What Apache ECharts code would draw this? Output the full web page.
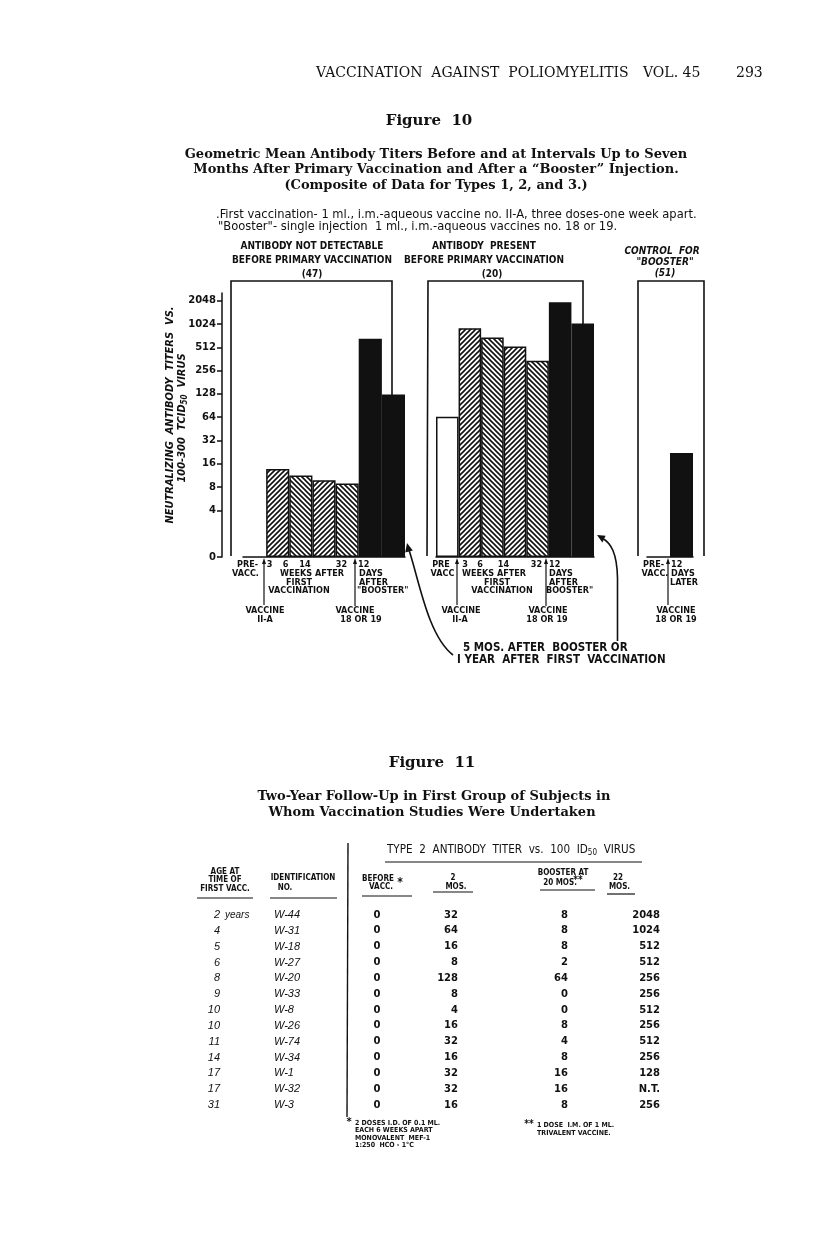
<!DOCTYPE html>
<html>
<head>
<meta charset="utf-8">
<script src="https://cdn.jsdelivr.net/npm/echarts@6/dist/echarts.min.js"></script>
<style>
  html, body { margin: 0; padding: 0; background: #fff; }
  #chart { width: 816px; height: 1236px; }
</style>
</head>
<body>
<div id="chart"></div>
<script>
const timepoints = ['PRE-VACC.', '3 WK', '6 WK', '14 WK', '32 WK', '12 DAYS AFTER BOOSTER', '5 MOS. AFTER BOOSTER']
const notDetectable = [null, 13.7, 11.3, 9.8, 8.9, 660, 126]   // (47)
const present = [65, 905, 685, 525, 343, 1960, 1040]            // (20)
const controlPoints = ['PRE-VACC.', '12 DAYS LATER']
const control = [null, 22]                                      // (51)
const barFills = ['open', 'up', 'down', 'up', 'down', 'solid', 'solid']
const controlFills = ['open', 'solid']
const tickTiters = [0, 4, 8, 16, 32, 64, 128, 256, 512, 1024, 2048]

// ---- Figure 11: table ----
const ages = ['2', '4', '5', '6', '8', '9', '10', '10', '11', '14', '17', '17', '31']
const ids = ['W-44', 'W-31', 'W-18', 'W-27', 'W-20', 'W-33', 'W-8', 'W-26', 'W-74', 'W-34', 'W-1', 'W-32', 'W-3']
const beforeVacc = [0, 0, 0, 0, 0, 0, 0, 0, 0, 0, 0, 0, 0]
const twoMos = [32, 64, 16, 8, 128, 8, 4, 16, 32, 16, 32, 32, 16]
const boosterAt20 = [8, 8, 8, 2, 64, 0, 0, 8, 4, 8, 16, 16, 8]
const twentyTwoMos = ['2048', '1024', '512', '512', '256', '256', '512', '256', '512', '256', '128', 'N.T.', '256']

const INK = '#111'
const NARROW = '"Liberation Sans Narrow", "DejaVu Sans Condensed", sans-serif'
const SANS = '"DejaVu Sans", sans-serif'
const SERIF = '"DejaVu Serif", serif'

const hatch = (dir) => {
  const c = document.createElement('canvas')
  c.width = c.height = 5
  const g = c.getContext('2d')
  g.fillStyle = '#fff'
  g.fillRect(0, 0, 5, 5)
  g.strokeStyle = INK
  g.lineWidth = 1.6
  g.beginPath()
  for (let k = -5; k <= 5; k += 5) {
    if (dir === 'up') { g.moveTo(k - 1, 6); g.lineTo(k + 6, -1) }
    else { g.moveTo(k - 1, -1); g.lineTo(k + 6, 6) }
  }
  g.stroke()
  return c
}

const fillOf = (f) => {
  if (f === 'solid') return INK
  if (f === 'open') return '#fff'
  return { image: hatch(f), repeat: 'repeat' }
}

const toBars = (vals, fills) => vals.map((v, i) => ({
  value: v == null ? null : Math.log2(v),
  itemStyle: { color: fillOf(fills[i]), borderColor: INK, borderWidth: 1.5 }
}))

const tickExps = tickTiters.map(t => (t === 0 ? 0 : Math.log2(t)))

const grids = [
  { left: 243, width: 162, top: 293, bottom: 679 },
  { left: 436, width: 158, top: 293, bottom: 679 },
  { left: 647, width: 46, top: 293, bottom: 679 }
]

const makeY = (i, show) => ({
  type: 'value',
  gridIndex: i,
  min: 0,
  max: 11.33,
  show,
  offset: 21,
  splitLine: { show: false },
  axisLine: { show: true, lineStyle: { color: INK, width: 1.5 } },
  axisTick: { show: true, length: 5, customValues: tickExps, lineStyle: { color: INK, width: 1.5 } },
  axisLabel: {
    customValues: tickExps,
    margin: 6,
    fontFamily: SANS,
    fontWeight: 'bold',
    fontSize: 10,
    color: INK,
    formatter: (v) => (v === 0 ? '0' : String(Math.round(Math.pow(2, v))))
  }
})

const makeX = (i, cats) => ({
  type: 'category',
  gridIndex: i,
  data: cats,
  axisLine: { show: true, onZero: false, lineStyle: { color: INK, width: 1.5 } },
  axisTick: { show: false },
  axisLabel: { show: false },
  splitLine: { show: false }
})

const makeBars = (i, data) => ({
  type: 'bar',
  xAxisIndex: i,
  yAxisIndex: i,
  data,
  barCategoryGap: '0%',
  barGap: '0%',
  silent: true
})

// ---- graphic helpers (page text, frames, arrows) ----
const txt = (text, x, y, o = {}) => ({
  type: 'text',
  x, y,
  rotation: o.rot || 0,
  silent: true,
  style: {
    text,
    fill: INK,
    align: o.align || 'center',
    verticalAlign: 'middle',
    fontFamily: o.family || NARROW,
    fontSize: o.size || 9,
    fontWeight: o.weight || 'bold',
    fontStyle: o.italic ? 'italic' : 'normal',
    rich: o.rich
  }
})

const seg = (pts, w = 1.5) => ({
  type: 'polyline', silent: true,
  shape: { points: pts },
  style: { stroke: INK, lineWidth: w, fill: null }
})

const head = (pts) => ({
  type: 'polygon', silent: true,
  shape: { points: pts },
  style: { fill: INK }
})

const upArrow = (x, y0, y1) => [
  seg([[x, y0 + 3], [x, y1]], 1.2),
  head([[x, y0], [x - 2, y0 + 6], [x + 2, y0 + 6]])
]

const g = []

// page header + figure 10 titles
g.push(txt('VACCINATION  AGAINST  POLIOMYELITIS', 316, 73, { align: 'left', family: SERIF, size: 14, weight: 'normal' }))
g.push(txt('VOL. 45', 643, 73, { align: 'left', family: SERIF, size: 14, weight: 'normal' }))
g.push(txt('293', 736, 73, { align: 'left', family: SERIF, size: 14, weight: 'normal' }))
g.push(txt('Figure  10', 429, 121, { family: SERIF, size: 15 }))
g.push(txt('Geometric Mean Antibody Titers Before and at Intervals Up to Seven', 436, 155, { family: SERIF, size: 13 }))
g.push(txt('Months After Primary Vaccination and After a \u201cBooster\u201d Injection.', 436, 170, { family: SERIF, size: 13 }))
g.push(txt('(Composite of Data for Types 1, 2, and 3.)', 436, 186, { family: SERIF, size: 13 }))

g.push(txt('.First vaccination- 1 ml., i.m.-aqueous vaccine no. II-A, three doses-one week apart.', 216, 215, { align: 'left', size: 12.8, weight: 'normal' }))
g.push(txt('"Booster"- single injection  1 ml., i.m.-aqueous vaccines no. 18 or 19.', 218, 227, { align: 'left', size: 12.8, weight: 'normal' }))

// panel headings
g.push(txt('ANTIBODY NOT DETECTABLE', 312, 246, { size: 10 }))
g.push(txt('BEFORE PRIMARY VACCINATION', 312, 260, { size: 10 }))
g.push(txt('(47)', 312, 274, { size: 10 }))
g.push(txt('ANTIBODY  PRESENT', 484, 246, { size: 10 }))
g.push(txt('BEFORE PRIMARY VACCINATION', 484, 260, { size: 10 }))
g.push(txt('(20)', 492, 274, { size: 10 }))
g.push(txt('CONTROL  FOR', 662, 251, { size: 10, italic: true }))
g.push(txt('"BOOSTER"', 665, 262, { size: 10, italic: true }))
g.push(txt('(51)', 665, 273, { size: 10, italic: true }))

// panel frames (open at the bottom)
g.push(seg([[231, 556], [231, 281], [392, 281], [392, 556]], 1.6))
g.push(seg([[427, 556], [428, 281], [583, 281], [583, 556]], 1.6))
g.push(seg([[638, 556], [638, 281], [704, 281], [704, 556]], 1.6))

// y-axis title
g.push(txt('NEUTRALIZING  ANTIBODY  TITERS  VS.', 170, 415, { rot: Math.PI / 2, size: 11, italic: true }))
g.push(txt('{a|100-300  TCID}{s|50}{a|  VIRUS}', 182, 418, {
  rot: Math.PI / 2, size: 11, italic: true,
  rich: {
    a: { fontFamily: NARROW, fontSize: 11, fontWeight: 'bold', fontStyle: 'italic', fill: INK },
    s: { fontFamily: NARROW, fontSize: 8, fontWeight: 'bold', fontStyle: 'italic', fill: INK, padding: [5, 0, 0, 0] }
  }
}))

// labels under panel 1
const L1 = [
  ['PRE-', 247.5, 565], ['VACC.', 245.5, 574],
  ['3', 269.5, 565], ['6', 285.5, 565], ['14', 305, 565], ['32', 341.5, 565],
  ['WEEKS AFTER', 312, 574], ['FIRST', 299, 582.5], ['VACCINATION', 299, 591],
  ['VACCINE', 265, 611], ['II-A', 265, 620], ['VACCINE', 355, 611], ['18 OR 19', 361, 620]
]
const L1left = [['12', 358, 565], ['DAYS', 359, 574], ['AFTER', 359, 582.5], ['"BOOSTER"', 357, 591]]
const L2 = [
  ['PRE', 441, 565], ['VACC', 442.5, 574],
  ['3', 465, 565], ['6', 480, 565], ['14', 503.5, 565], ['32', 536.5, 565],
  ['WEEKS AFTER', 494, 574], ['FIRST', 497, 582.5], ['VACCINATION', 502, 591],
  ['VACCINE', 461, 611], ['II-A', 460, 620], ['VACCINE', 548, 611], ['18 OR 19', 547, 620]
]
const L2left = [['12', 549, 565], ['DAYS', 549, 574], ['AFTER', 549, 582.5], ['BOOSTER"', 546, 591]]
const L3 = [['PRE-', 653.5, 565], ['VACC.', 655, 574], ['VACCINE', 676, 611], ['18 OR 19', 676, 620]]
const L3left = [['12', 671, 565], ['DAYS', 671, 574], ['LATER', 670, 583]]
;[...L1, ...L2, ...L3].forEach(([t, x, y]) => g.push(txt(t, x, y)))
;[...L1left, ...L2left, ...L3left].forEach(([t, x, y]) => g.push(txt(t, x, y, { align: 'left' })))

// vaccination arrows
g.push(...upArrow(264, 558, 605))
g.push(...upArrow(355, 558, 606))
g.push(...upArrow(457, 558, 605))
g.push(...upArrow(546, 558, 606))
g.push(...upArrow(668, 558, 605))

// "5 mos. after booster" note with curved pointers
g.push(txt('5 MOS. AFTER  BOOSTER OR', 463, 648, { align: 'left', size: 11.5 }))
g.push(txt('I YEAR  AFTER  FIRST  VACCINATION', 457, 660, { align: 'left', size: 11.5 }))
g.push({
  type: 'bezierCurve', silent: true,
  shape: { x1: 453, y1: 655, cpx1: 428, cpy1: 636, cpx2: 419, cpy2: 580, x2: 409, y2: 550 },
  style: { stroke: INK, lineWidth: 1.6, fill: null }
})
g.push(head([[407, 543], [412.8, 550.5], [405.2, 552.5]]))
g.push(seg([[617.5, 641], [617.5, 578]], 1.6))
g.push({
  type: 'bezierCurve', silent: true,
  shape: { x1: 617.5, y1: 578, cpx1: 617, cpy1: 553, cpx2: 611, cpy2: 543, x2: 602, y2: 538 },
  style: { stroke: INK, lineWidth: 1.6, fill: null }
})
g.push(head([[597, 535], [605.6, 535.7], [602.4, 542.5]]))

// ---- Figure 11 ----
g.push(txt('Figure  11', 432, 763, { family: SERIF, size: 15 }))
g.push(txt('Two-Year Follow-Up in First Group of Subjects in', 434, 797, { family: SERIF, size: 13 }))
g.push(txt('Whom Vaccination Studies Were Undertaken', 432, 813, { family: SERIF, size: 13 }))

g.push(txt('{a|TYPE  2  ANTIBODY  TITER  vs.  100  ID}{s|50}{a|  VIRUS}', 387, 850, {
  align: 'left', size: 11.6, weight: 'normal',
  rich: {
    a: { fontFamily: NARROW, fontSize: 11.6, fill: INK },
    s: { fontFamily: NARROW, fontSize: 8, fill: INK, padding: [5, 0, 0, 0] }
  }
}))
g.push(seg([[385, 862], [642, 862]], 1.2))
g.push(seg([[348, 843], [347, 1117]], 1.4))

const heads = [
  ['AGE AT', 225, 872], ['TIME OF', 225, 880], ['FIRST VACC.', 225, 888.5],
  ['IDENTIFICATION', 303, 878], ['NO.', 285, 888],
  ['BEFORE', 378, 879], ['VACC.', 381, 887],
  ['2', 453, 878], ['MOS.', 456, 887],
  ['BOOSTER AT', 563, 873], ['20 MOS.', 560, 882.5],
  ['22', 618, 878], ['MOS.', 619.5, 887]
]
heads.forEach(([t, x, y]) => g.push(txt(t, x, y, { size: 8 })))
g.push(txt('*', 400, 883, { size: 12 }))
g.push(txt('**', 578, 880, { size: 10 }))
g.push(seg([[197, 898], [253, 898]], 1.2))
g.push(seg([[270, 898], [337, 898]], 1.2))
g.push(seg([[362, 896], [412, 896]], 1.2))
g.push(seg([[433, 892], [473, 892]], 1.2))
g.push(seg([[540, 890], [595, 890]], 1.2))
g.push(seg([[607, 894], [635, 894]], 1.2))

ages.forEach((a, i) => {
  const y = 915 + i * 15.83
  g.push(txt(a, 220, y, { align: 'right', family: '"Liberation Sans", sans-serif', size: 11, weight: 'normal', italic: true }))
  if (i === 0) g.push(txt('years', 225, y, { align: 'left', family: '"Liberation Sans", sans-serif', size: 10, weight: 'normal', italic: true }))
  g.push(txt(ids[i], 274, y, { align: 'left', family: '"Liberation Sans", sans-serif', size: 11, weight: 'normal', italic: true }))
  g.push(txt(String(beforeVacc[i]), 377, y, { family: SANS, size: 10 }))
  g.push(txt(String(twoMos[i]), 458, y, { align: 'right', family: SANS, size: 10 }))
  g.push(txt(String(boosterAt20[i]), 568, y, { align: 'right', family: SANS, size: 10 }))
  g.push(txt(twentyTwoMos[i], 660, y, { align: 'right', family: SANS, size: 10 }))
})

g.push(txt('*', 349, 1122, { size: 11 }))
const foot1 = ['2 DOSES I.D. OF 0.1 ML.', 'EACH 6 WEEKS APART', 'MONOVALENT  MEF-1', '1:250  HCO - 1\u00b0C']
foot1.forEach((t, i) => g.push(txt(t, 355, 1123 + i * 7.4, { align: 'left', size: 7 })))
g.push(txt('**', 529, 1124, { size: 10 }))
g.push(txt('1 DOSE  I.M. OF 1 ML.', 537, 1125.5, { align: 'left', size: 7 }))
g.push(txt('TRIVALENT VACCINE.', 537, 1133, { align: 'left', size: 7 }))

const chart = echarts.init(document.getElementById('chart'))
chart.setOption({
  backgroundColor: '#fff',
  animation: false,
  grid: grids,
  xAxis: [makeX(0, timepoints), makeX(1, timepoints), makeX(2, controlPoints)],
  yAxis: [makeY(0, true), makeY(1, false), makeY(2, false)],
  series: [
    makeBars(0, toBars(notDetectable, barFills)),
    makeBars(1, toBars(present, barFills)),
    makeBars(2, toBars(control, controlFills))
  ],
  graphic: { elements: g }
})
</script>
</body>
</html>
